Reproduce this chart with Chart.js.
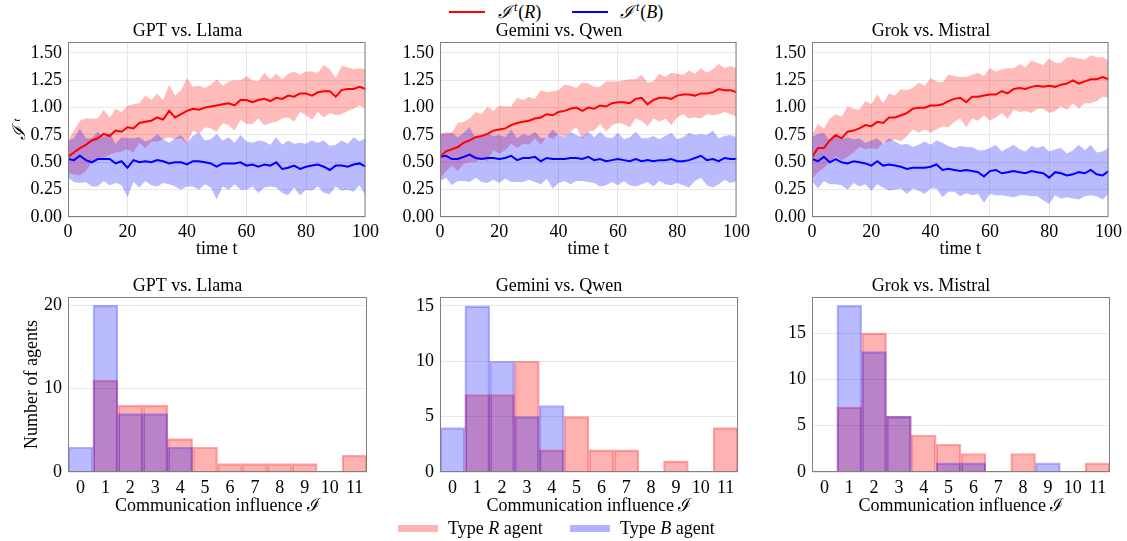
<!DOCTYPE html>
<html>
<head>
<meta charset="utf-8">
<script src="https://cdn.jsdelivr.net/npm/chart.js@4.4.1/dist/chart.umd.min.js"></script>
<style>
    body { margin: 0; background: #fff; width: 1127px; height: 541px; position: relative; overflow: hidden;
           font-family: "Liberation Serif", serif; color: #000; }
    .box { position: absolute; }
    .sw { position: absolute; }
    .lbl { position: absolute; font-size: 18px; line-height: 20px; height: 20px; white-space: nowrap; }
    .sup { font-size: 12px; line-height: 0; vertical-align: 7px; font-style: italic; margin-left: 3px; margin-right: 1px; }
</style>
</head>
<body>

<!-- légende du haut -->
<div class="sw" style="left:449px; top:11px; width:36px; height:2px; background:#ff0000;"></div>
<div class="lbl" style="left:498px; top:2px;"><i>ℐ</i><span class="sup">t</span>(<i>R</i>)</div>
<div class="sw" style="left:572px; top:11px; width:36px; height:2px; background:#0000ff;"></div>
<div class="lbl" style="left:620px; top:2px;"><i>ℐ</i><span class="sup">t</span>(<i>B</i>)</div>

<div class="box" style="left:0px; top:0px;"><canvas id="top1" width="383" height="262"></canvas></div>
<div class="box" style="left:372px; top:0px;"><canvas id="top2" width="382" height="262"></canvas></div>
<div class="box" style="left:744px; top:0px;"><canvas id="top3" width="382" height="262"></canvas></div>

<div class="box" style="left:0px; top:262px;"><canvas id="hist1" width="383" height="257"></canvas></div>
<div class="box" style="left:372px; top:262px;"><canvas id="hist2" width="382" height="257"></canvas></div>
<div class="box" style="left:744px; top:262px;"><canvas id="hist3" width="382" height="257"></canvas></div>

<!-- légende du bas -->
<div class="sw" style="left:398px; top:525px; width:40px; height:7px; background:rgba(255,0,0,0.3);"></div>
<div class="lbl" style="left:448px; top:518px;">Type <i>R</i> agent</div>
<div class="sw" style="left:570px; top:525px; width:40px; height:7px; background:rgba(0,0,255,0.3);"></div>
<div class="lbl" style="left:620px; top:518px;">Type <i>B</i> agent</div>

<script>
// Pas de temps (un point sur deux)
const tSteps = [0, 2, 4, 6, 8, 10, 12, 14, 16, 18,
    20, 22, 24, 26, 28, 30, 32, 34, 36, 38,
    40, 42, 44, 46, 48, 50, 52, 54, 56, 58,
    60, 62, 64, 66, 68, 70, 72, 74, 76, 78,
    80, 82, 84, 86, 88, 90, 92, 94, 96, 98,
    100];

// GPT vs. Llama
const gptRMean = [0.55, 0.59, 0.63, 0.66, 0.70, 0.72, 0.76, 0.74, 0.79, 0.78,
    0.82, 0.81, 0.86, 0.87, 0.88, 0.91, 0.89, 0.97, 0.91, 0.94,
    0.97, 0.99, 0.98, 1.00, 1.01, 1.02, 1.03, 1.04, 1.02, 1.07,
    1.07, 1.05, 1.07, 1.08, 1.06, 1.09, 1.08, 1.11, 1.10, 1.13,
    1.13, 1.11, 1.14, 1.15, 1.15, 1.10, 1.16, 1.17, 1.17, 1.19,
    1.17];
const gptRSd = [0.15, 0.20, 0.25, 0.24, 0.20, 0.18, 0.22, 0.17, 0.20, 0.18,
    0.20, 0.22, 0.18, 0.24, 0.19, 0.22, 0.18, 0.24, 0.20, 0.22,
    0.30, 0.20, 0.22, 0.18, 0.20, 0.24, 0.17, 0.20, 0.23, 0.18,
    0.22, 0.20, 0.17, 0.24, 0.20, 0.22, 0.18, 0.20, 0.23, 0.17,
    0.20, 0.22, 0.18, 0.24, 0.20, 0.17, 0.22, 0.20, 0.18, 0.17,
    0.18];
const gptBMean = [0.53, 0.52, 0.56, 0.52, 0.50, 0.53, 0.53, 0.53, 0.49, 0.51,
    0.45, 0.52, 0.50, 0.51, 0.50, 0.52, 0.51, 0.49, 0.50, 0.50,
    0.48, 0.51, 0.51, 0.50, 0.49, 0.46, 0.49, 0.49, 0.49, 0.50,
    0.47, 0.48, 0.46, 0.48, 0.47, 0.50, 0.44, 0.45, 0.47, 0.44,
    0.46, 0.47, 0.48, 0.46, 0.43, 0.47, 0.47, 0.46, 0.48, 0.49,
    0.46];
const gptBSd = [0.17, 0.20, 0.25, 0.20, 0.22, 0.25, 0.20, 0.24, 0.18, 0.22,
    0.27, 0.20, 0.23, 0.18, 0.21, 0.24, 0.20, 0.19, 0.22, 0.25,
    0.20, 0.23, 0.26, 0.20, 0.22, 0.30, 0.21, 0.24, 0.19, 0.25,
    0.22, 0.20, 0.24, 0.21, 0.19, 0.23, 0.22, 0.25, 0.20, 0.24,
    0.21, 0.23, 0.20, 0.24, 0.22, 0.19, 0.23, 0.21, 0.25, 0.20,
    0.26];

// Gemini vs. Qwen
const gemRMean = [0.55, 0.60, 0.62, 0.64, 0.68, 0.70, 0.73, 0.74, 0.76, 0.79,
    0.80, 0.81, 0.84, 0.86, 0.87, 0.88, 0.90, 0.91, 0.94, 0.93,
    0.96, 0.97, 0.99, 1.00, 0.97, 1.00, 0.99, 1.02, 1.01, 1.04,
    1.05, 1.05, 1.04, 1.08, 1.09, 1.03, 1.07, 1.09, 1.09, 1.08,
    1.11, 1.12, 1.12, 1.11, 1.13, 1.13, 1.14, 1.17, 1.16, 1.16,
    1.14];
const gemRSd = [0.20, 0.18, 0.15, 0.22, 0.19, 0.20, 0.23, 0.20, 0.25, 0.18,
    0.22, 0.20, 0.17, 0.23, 0.20, 0.22, 0.18, 0.25, 0.20, 0.22,
    0.20, 0.24, 0.21, 0.18, 0.26, 0.22, 0.20, 0.17, 0.23, 0.20,
    0.19, 0.20, 0.22, 0.18, 0.21, 0.20, 0.17, 0.22, 0.19, 0.24,
    0.20, 0.18, 0.22, 0.20, 0.23, 0.19, 0.21, 0.23, 0.20, 0.22,
    0.22];
const gemBMean = [0.55, 0.56, 0.53, 0.53, 0.55, 0.57, 0.54, 0.53, 0.54, 0.54,
    0.53, 0.54, 0.56, 0.52, 0.54, 0.54, 0.55, 0.51, 0.54, 0.53,
    0.53, 0.53, 0.54, 0.54, 0.53, 0.55, 0.52, 0.53, 0.51, 0.52,
    0.53, 0.52, 0.51, 0.53, 0.51, 0.52, 0.51, 0.52, 0.52, 0.53,
    0.51, 0.51, 0.52, 0.54, 0.56, 0.52, 0.53, 0.51, 0.54, 0.53,
    0.53];
const gemBSd = [0.22, 0.20, 0.24, 0.20, 0.22, 0.25, 0.18, 0.21, 0.23, 0.20,
    0.22, 0.19, 0.24, 0.20, 0.22, 0.20, 0.23, 0.21, 0.19, 0.27,
    0.22, 0.20, 0.24, 0.21, 0.20, 0.23, 0.21, 0.25, 0.22, 0.20,
    0.24, 0.19, 0.22, 0.25, 0.21, 0.20, 0.23, 0.19, 0.22, 0.24,
    0.20, 0.22, 0.25, 0.21, 0.20, 0.23, 0.26, 0.21, 0.20, 0.22,
    0.20];

// Grok vs. Mistral
const grokRMean = [0.55, 0.63, 0.63, 0.70, 0.75, 0.72, 0.78, 0.79, 0.81, 0.84,
    0.83, 0.87, 0.86, 0.91, 0.91, 0.93, 0.95, 0.99, 1.00, 1.00,
    1.02, 1.02, 1.03, 1.06, 1.08, 1.09, 1.05, 1.10, 1.10, 1.11,
    1.12, 1.12, 1.15, 1.13, 1.17, 1.18, 1.17, 1.19, 1.20, 1.19,
    1.20, 1.19, 1.21, 1.22, 1.25, 1.22, 1.24, 1.26, 1.26, 1.28,
    1.26];
const grokRSd = [0.20, 0.22, 0.18, 0.20, 0.19, 0.20, 0.23, 0.20, 0.17, 0.22,
    0.20, 0.25, 0.18, 0.22, 0.20, 0.24, 0.21, 0.19, 0.23, 0.20,
    0.25, 0.22, 0.20, 0.24, 0.21, 0.19, 0.23, 0.20, 0.22, 0.18,
    0.24, 0.21, 0.20, 0.23, 0.19, 0.22, 0.20, 0.24, 0.21, 0.20,
    0.25, 0.22, 0.20, 0.24, 0.21, 0.23, 0.20, 0.22, 0.20, 0.18,
    0.17];
const grokBMean = [0.53, 0.51, 0.55, 0.50, 0.53, 0.50, 0.49, 0.51, 0.50, 0.49,
    0.47, 0.51, 0.47, 0.48, 0.47, 0.46, 0.44, 0.45, 0.45, 0.45,
    0.46, 0.48, 0.43, 0.44, 0.43, 0.42, 0.43, 0.42, 0.41, 0.37,
    0.42, 0.43, 0.40, 0.41, 0.42, 0.41, 0.40, 0.42, 0.41, 0.40,
    0.36, 0.41, 0.40, 0.38, 0.39, 0.41, 0.40, 0.43, 0.39, 0.38,
    0.42];
const grokBSd = [0.20, 0.25, 0.22, 0.20, 0.23, 0.21, 0.24, 0.20, 0.22, 0.19,
    0.23, 0.21, 0.20, 0.24, 0.22, 0.20, 0.23, 0.19, 0.21, 0.24,
    0.20, 0.22, 0.25, 0.21, 0.20, 0.23, 0.21, 0.22, 0.20, 0.24,
    0.21, 0.23, 0.20, 0.22, 0.24, 0.21, 0.20, 0.23, 0.22, 0.25,
    0.24, 0.21, 0.23, 0.20, 0.22, 0.25, 0.21, 0.23, 0.20, 0.22,
    0.21];

// Histogrammes : nombre d'agents par influence
const binLabels = ['0', '1', '2', '3', '4', '5', '6', '7', '8', '9', '10', '11'];
const gptHistR = [0, 11, 8, 8, 4, 3, 1, 1, 1, 1, 0, 2];
const gptHistB = [3, 20, 7, 7, 3, 0, 0, 0, 0, 0, 0, 0];
const gemHistR = [0, 7, 7, 10, 2, 5, 2, 2, 0, 1, 0, 4];
const gemHistB = [4, 15, 10, 5, 6, 0, 0, 0, 0, 0, 0, 0];
const grokHistR = [0, 7, 15, 6, 4, 3, 2, 0, 2, 0, 0, 1];
const grokHistB = [0, 18, 13, 6, 0, 1, 1, 0, 0, 1, 0, 0];

// Graduations
const topXTicks = [0, 20, 40, 60, 80, 100];
const topYTicks = [0, 0.25, 0.5, 0.75, 1.0, 1.25, 1.5];
const gptHistYTicks = [0, 10, 20];
const gemHistYTicks = [0, 5, 10, 15];
const grokHistYTicks = [0, 5, 10, 15];

Chart.defaults.font.family = '"Liberation Serif", "DejaVu Serif", serif';
Chart.defaults.font.size = 18;
Chart.defaults.color = '#000';
Chart.defaults.animation = false;

const gridColor = '#e8e8e8';

// Cadre gris autour de la zone de tracé
const framePlugin = {
    id: 'frame',
    afterDraw(chart) {
        const a = chart.chartArea;
        const ctx = chart.ctx;
        ctx.save();
        ctx.strokeStyle = '#808080';
        ctx.lineWidth = 1;
        ctx.strokeRect(a.left + 0.5, a.top + 0.5, a.right - a.left - 1, a.bottom - a.top - 1);
        ctx.restore();
    }
};

function points(arr) {
    return tSteps.map((t, i) => ({ x: t, y: arr[i] }));
}

function band(mean, sd, sign) {
    return tSteps.map((t, i) => ({ x: t, y: mean[i] + sign * sd[i] }));
}

function lineChart(id, title, rMean, rSd, bMean, bSd, yTitle) {
    const fillDs = (data, color, fill, order) => ({
        data: data, borderWidth: 0, pointRadius: 0, backgroundColor: color, fill: fill, order: order
    });
    new Chart(document.getElementById(id), {
        type: 'line',
        data: {
            datasets: [
                { data: points(rMean), borderColor: '#ff0000', borderWidth: 2, pointRadius: 0, fill: false, order: 0 },
                { data: points(bMean), borderColor: '#0000ff', borderWidth: 2, pointRadius: 0, fill: false, order: 1 },
                fillDs(band(bMean, bSd, 1), 'rgba(0,0,255,0.27)', '+1', 2),
                fillDs(band(bMean, bSd, -1), 'rgba(0,0,255,0.27)', false, 2),
                fillDs(band(rMean, rSd, 1), 'rgba(255,0,0,0.27)', '+1', 3),
                fillDs(band(rMean, rSd, -1), 'rgba(255,0,0,0.27)', false, 3)
            ]
        },
        options: {
            responsive: false,
            layout: { padding: { left: 8, right: 16, top: 20.4, bottom: 0 } },
            plugins: {
                legend: { display: false },
                tooltip: { enabled: false },
                title: { display: true, text: title, padding: 0, font: { size: 18, weight: 'normal' } }
            },
            scales: {
                x: {
                    type: 'linear', min: 0, max: 100,
                    afterBuildTicks: s => { s.ticks = topXTicks.map(v => ({ value: v })); },
                    afterFit: s => { s.height = 45; },
                    grid: { color: gridColor, drawTicks: false },
                    border: { display: false },
                    ticks: { padding: 4, maxRotation: 0 },
                    title: { display: true, text: 'time t', padding: { top: 0, bottom: 1.5 } }
                },
                y: {
                    min: 0, max: 1.6,
                    afterBuildTicks: s => { s.ticks = topYTicks.map(v => ({ value: v })); },
                    afterFit: s => { s.width = 60; },
                    grid: { color: gridColor, drawTicks: false },
                    border: { display: false },
                    ticks: { padding: 6, callback: v => v.toFixed(2) },
                    title: { display: !!yTitle, text: yTitle, padding: { top: 1, bottom: 0 },
                             font: { style: 'italic' } }
                }
            }
        },
        plugins: [framePlugin]
    });
}

function histChart(id, title, histR, histB, yMax, yTicks, yTitle) {
    new Chart(document.getElementById(id), {
        type: 'bar',
        data: {
            labels: binLabels,
            datasets: [
                { data: histR, backgroundColor: 'rgba(255,0,0,0.3)', borderColor: 'rgba(255,0,0,0.35)',
                  borderWidth: 1.5, grouped: false, barPercentage: 1, categoryPercentage: 1, order: 1 },
                { data: histB, backgroundColor: 'rgba(0,0,255,0.27)', borderColor: 'rgba(0,0,255,0.3)',
                  borderWidth: 1.5, grouped: false, barPercentage: 1, categoryPercentage: 1, order: 0 }
            ]
        },
        options: {
            responsive: false,
            layout: { padding: { left: 8, right: 16, top: 13.4, bottom: 0 } },
            plugins: {
                legend: { display: false },
                tooltip: { enabled: false },
                title: { display: true, text: title, padding: 0, font: { size: 18, weight: 'normal' } }
            },
            scales: {
                x: {
                    afterFit: s => { s.height = 47; },
                    grid: { display: false, drawTicks: false },
                    border: { display: false },
                    ticks: { padding: 5, maxRotation: 0, autoSkip: false },
                    title: { display: true, text: 'Communication influence ℐ', padding: { top: 0, bottom: 1.5 } }
                },
                y: {
                    min: 0, max: yMax,
                    afterBuildTicks: s => { s.ticks = yTicks.map(v => ({ value: v })); },
                    afterFit: s => { s.width = 60; },
                    grid: { color: gridColor, drawTicks: false },
                    border: { display: false },
                    ticks: { padding: 6 },
                    title: { display: !!yTitle, text: yTitle, padding: { top: 13, bottom: 0 } }
                }
            }
        },
        plugins: [framePlugin]
    });
}

lineChart('top1', 'GPT vs. Llama', gptRMean, gptRSd, gptBMean, gptBSd, 'ℐ ᵗ');
lineChart('top2', 'Gemini vs. Qwen', gemRMean, gemRSd, gemBMean, gemBSd, '');
lineChart('top3', 'Grok vs. Mistral', grokRMean, grokRSd, grokBMean, grokBSd, '');

histChart('hist1', 'GPT vs. Llama', gptHistR, gptHistB, 21, gptHistYTicks, 'Number of agents');
histChart('hist2', 'Gemini vs. Qwen', gemHistR, gemHistB, 15.8, gemHistYTicks, '');
histChart('hist3', 'Grok vs. Mistral', grokHistR, grokHistB, 18.9, grokHistYTicks, '');
</script>
</body>
</html>
